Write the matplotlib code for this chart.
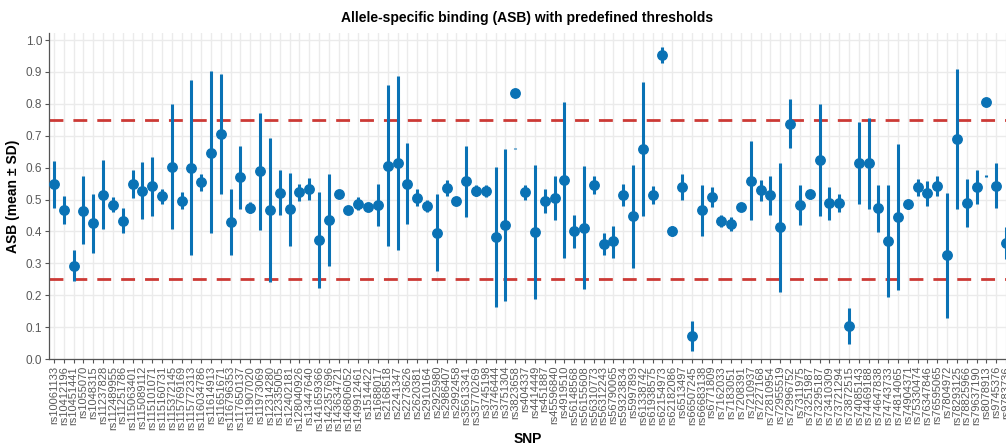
import numpy as np
import matplotlib
matplotlib.use("Agg")
import matplotlib.pyplot as plt

plt.rcParams["font.family"] = ["Liberation Sans", "DejaVu Sans"]

# SNP ids (x axis)
snps = [
    "rs10061133", "rs10412196", "rs10451441", "rs1055070", "rs1048315",
    "rs11237828", "rs112489955", "rs11251786", "rs115063401", "rs115089112",
    "rs115101071", "rs115160731", "rs115372145", "rs115769169", "rs115772313",
    "rs116034786", "rs11614913", "rs11651671", "rs116796353", "rs117650137",
    "rs11907020", "rs11973069", "rs12314280", "rs12335005", "rs12402181",
    "rs128040926", "rs13447640", "rs141659366", "rs142357696", "rs143634721",
    "rs146806052", "rs149912461", "rs1514422", "rs1688017", "rs2168518",
    "rs2241347", "rs2273626", "rs2620381", "rs2910164", "rs2925980",
    "rs2986407", "rs2992458", "rs35613341", "rs35770269", "rs3745198",
    "rs3746444", "rs3751304", "rs3823658", "rs404337", "rs4414449",
    "rs451887", "rs45596840", "rs4919510", "rs56148568", "rs56155608",
    "rs56310773", "rs56312243", "rs56790065", "rs59323834", "rs5997893",
    "rs61338742", "rs61938575", "rs62154973", "rs62182086", "rs6513497",
    "rs66507245", "rs66683138", "rs6771809", "rs7162033", "rs7183051",
    "rs7208391", "rs7210937", "rs7227168", "rs72810954", "rs72955519",
    "rs72996752", "rs7311975", "rs73251987", "rs73295187", "rs73410309",
    "rs73721294", "rs73872515", "rs74085143", "rs74469188", "rs74647838",
    "rs74743733", "rs74814065", "rs74904371", "rs75330474", "rs76347846",
    "rs76595065", "rs7804972", "rs78293125", "rs78825966", "rs79637190",
    "rs8078913", "rs9745376", "rs9783736",
]

# mean ASB per SNP
asb_mean = [
    0.549, 0.467, 0.293, 0.464, 0.425, 0.514, 0.483, 0.434, 0.549, 0.528,
    0.541, 0.510, 0.603, 0.496, 0.600, 0.554, 0.646, 0.705, 0.429, 0.570,
    0.474, 0.588, 0.467, 0.520, 0.469, 0.523, 0.534, 0.374, 0.437, 0.518,
    0.468, 0.487, 0.476, 0.484, 0.606, 0.615, 0.549, 0.506, 0.481, 0.396,
    0.537, 0.496, 0.557, 0.528, 0.528, 0.382, 0.421, 0.834, 0.523, 0.399,
    0.496, 0.505, 0.561, 0.400, 0.412, 0.547, 0.360, 0.369, 0.515, 0.448,
    0.658, 0.514, 0.953, 0.402, 0.539, 0.072, 0.466, 0.508, 0.432, 0.424,
    0.476, 0.559, 0.530, 0.513, 0.413, 0.737, 0.484, 0.517, 0.623, 0.488,
    0.489, 0.103, 0.613, 0.613, 0.472, 0.370, 0.445, 0.486, 0.538, 0.520,
    0.543, 0.325, 0.690, 0.490, 0.539, 0.807, 0.543, 0.365,
]

# mean - SD
asb_low = [
    0.474, 0.422, 0.244, 0.359, 0.333, 0.406, 0.460, 0.394, 0.505, 0.438,
    0.449, 0.487, 0.409, 0.469, 0.325, 0.527, 0.394, 0.517, 0.327, 0.469,
    0.457, 0.405, 0.241, 0.450, 0.353, 0.496, 0.499, 0.224, 0.290, 0.508,
    0.463, 0.466, 0.471, 0.418, 0.353, 0.343, 0.422, 0.479, 0.460, 0.277,
    0.511, 0.491, 0.444, 0.510, 0.508, 0.162, 0.183, 0.657, 0.499, 0.188,
    0.459, 0.435, 0.318, 0.347, 0.219, 0.518, 0.327, 0.316, 0.481, 0.285,
    0.447, 0.487, 0.928, 0.385, 0.498, 0.025, 0.387, 0.475, 0.414, 0.401,
    0.471, 0.436, 0.496, 0.453, 0.209, 0.660, 0.421, 0.502, 0.448, 0.435,
    0.460, 0.046, 0.485, 0.470, 0.399, 0.194, 0.215, 0.471, 0.511, 0.481,
    0.511, 0.129, 0.469, 0.414, 0.487, 0.572, 0.474, 0.314,
]

# mean + SD
asb_high = [
    0.621, 0.511, 0.342, 0.573, 0.517, 0.623, 0.508, 0.473, 0.594, 0.619,
    0.632, 0.533, 0.800, 0.524, 0.874, 0.579, 0.903, 0.894, 0.532, 0.669,
    0.492, 0.771, 0.693, 0.591, 0.584, 0.548, 0.568, 0.523, 0.581, 0.529,
    0.473, 0.508, 0.481, 0.550, 0.859, 0.886, 0.676, 0.533, 0.499, 0.516,
    0.561, 0.501, 0.668, 0.545, 0.547, 0.602, 0.659, 0.661, 0.547, 0.609,
    0.534, 0.574, 0.805, 0.453, 0.604, 0.574, 0.395, 0.418, 0.550, 0.609,
    0.868, 0.541, 0.979, 0.416, 0.579, 0.119, 0.547, 0.540, 0.450, 0.445,
    0.481, 0.682, 0.561, 0.574, 0.616, 0.816, 0.547, 0.531, 0.798, 0.540,
    0.516, 0.159, 0.743, 0.755, 0.545, 0.545, 0.674, 0.497, 0.564, 0.559,
    0.575, 0.520, 0.909, 0.564, 0.592, 0.576, 0.613, 0.414,
]

thresholds = [0.25, 0.75]

blue = "#0A72B5"
x = np.arange(len(snps))

fig = plt.figure(figsize=(10.06, 4.46), dpi=100)
ax = fig.add_axes([49 / 1006, 87 / 446, 957 / 1006, 326 / 446])

for t in thresholds:
    ax.axhline(t, color="#CC3A36", lw=2.0, ls=(0, (5, 3.6)), zorder=2)

ax.vlines(x, asb_low, asb_high, color=blue, lw=2.2, zorder=3)
ax.plot(x, asb_mean, "o", color=blue, ms=6.8, zorder=4)

ax.set_xlim(-0.51, 96.85)
ax.set_ylim(0, 1.022)
ax.set_yticks(np.arange(0, 1.01, 0.1))
ax.set_yticklabels([f"{v:.1f}" for v in np.arange(0, 1.01, 0.1)])
ax.set_xticks(x)
ax.set_xticklabels(snps, rotation=90)

ax.grid(True, color="#EBEBEB", lw=1.0, zorder=0)
ax.set_axisbelow(True)
for s in ["top", "right"]:
    ax.spines[s].set_visible(False)
for s in ["left", "bottom"]:
    ax.spines[s].set_color("#555555")
    ax.spines[s].set_linewidth(0.9)
ax.tick_params(axis="both", colors="#555555", length=3, width=0.8,
               labelcolor="#595959")
ax.tick_params(axis="x", labelsize=8, pad=2)
ax.tick_params(axis="y", labelsize=8.5, pad=2)

ax.set_title("Allele-specific binding (ASB) with predefined thresholds",
             fontsize=10, fontweight="bold", pad=8)
ax.set_ylabel("ASB (mean ± SD)", fontsize=10, fontweight="bold", labelpad=4)
ax.set_xlabel("SNP", fontsize=10, fontweight="bold", labelpad=1)

fig.savefig("out.png", dpi=100)
